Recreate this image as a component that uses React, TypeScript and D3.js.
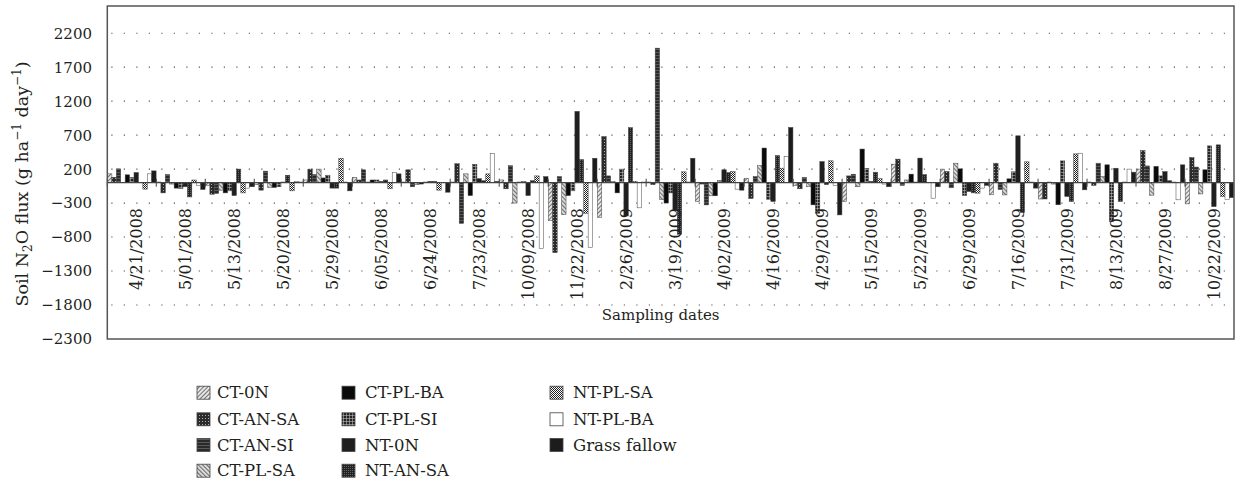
import React from 'react';
import * as d3 from 'd3';

// sampling dates (one group of 11 bars per date)
const dates = ['4/21/2008', '5/01/2008', '5/13/2008', '5/20/2008', '5/29/2008', '6/05/2008', '6/24/2008', '7/23/2008',
  '10/09/2008', '11/22/2008', '2/26/2009', '3/19/2009', '4/02/2009', '4/16/2009', '4/29/2009', '5/15/2009',
  '5/22/2009', '6/29/2009', '7/16/2009', '7/31/2009', '8/13/2009', '8/27/2009', '10/22/2009'];

const seriesNames = ['CT-0N', 'CT-AN-SA', 'CT-AN-SI', 'CT-PL-SA', 'CT-PL-BA', 'CT-PL-SI',
  'NT-0N', 'NT-AN-SA', 'NT-PL-SA', 'NT-PL-BA', 'Grass fallow'];

// soil N2O flux, g ha-1 day-1
const ct0N = [130, 10, -40, -30, 40, 80, 10, 10, 40, -560, -510, 10, -277, 66, -40, -277, 273, 200, -178, -240, 10, 200, -312];
const ctAnSa = [80, -150, -170, -110, 200, 40, 190, 280, -90, -1030, 680, -30, -20, -233, -90, 100, 347, 164, 287, -240, -40, 473, 371];
const ctAnSi = [204, 120, -160, 170, 120, 190, -60, -600, 250, 90, 100, 1980, -327, 90, 77, 125, -40, -75, -100, 10, 287, 247, 230];
const ctPlSa = [5, -20, -110, -70, 200, 10, -30, 130, -300, -470, 20, -250, -193, 250, -60, -60, 40, 287, -180, -20, 90, -184, -165];
const ctPlBa = [116, -80, -150, -70, 70, 40, -20, -190, 10, -190, -150, -300, -193, 510, -326, 495, 126, 204, 57, -325, 263, 240, 190];
const ctPlSi = [77, -85, -120, -60, 110, 40, 10, 270, 20, -120, 200, -150, 30, -245, -450, 210, 10, -188, 160, 321, -573, 100, 542];
const nt0N = [150, -60, -190, 10, -80, 20, 20, 60, -190, 1050, -490, -400, 190, -277, 312, 20, 362, -130, 690, -203, 213, 164, -352];
const ntAnSa = [5, -210, 200, 110, -80, 40, 20, 30, 30, 340, 810, -760, 150, 400, -30, 155, 120, -150, -440, -277, -277, 30, 557];
const ntPlSa = [-95, 40, -150, -120, 360, -90, -110, 130, 100, -450, 20, 160, 165, 214, 322, 60, 5, -154, 307, 424, 10, 10, -203];
const ntPlBa = [130, -40, -80, 15, 10, 150, 5, 430, -970, -950, -370, 10, -95, 386, -40, -20, -228, -80, 10, 434, 200, -252, -250];
const grassFallow = [174, -100, -60, 10, -120, 130, -140, 20, 90, 360, 10, 360, -110, 813, -474, -60, -60, -40, -80, -105, 155, 263, -220];

const seriesValues = [ct0N, ctAnSa, ctAnSi, ctPlSa, ctPlBa, ctPlSi, nt0N, ntAnSa, ntPlSa, ntPlBa, grassFallow];

const yTicks = [-2300, -1800, -1300, -800, -300, 200, 700, 1200, 1700, 2200];

const W = 1236;
const H = 481;
const FONT = '"DejaVu Serif", "Liberation Serif", serif';
const INK = '#231f20';

const fmt = (v: number) => (v < 0 ? '\u2212' + Math.abs(v) : String(v));

// fill patterns, one per series (same order as seriesNames)
const Patterns = () => (
  <defs>
    <pattern id="p0" width="3" height="3" patternUnits="userSpaceOnUse" patternTransform="rotate(45)">
      <rect width="3" height="3" fill="#e6e6e6" />
      <line x1="0" y1="0" x2="0" y2="3" stroke="#333" strokeWidth="1.3" />
    </pattern>
    <pattern id="p1" width="3" height="3" patternUnits="userSpaceOnUse">
      <rect width="3" height="3" fill="#2b2b2b" />
      <rect x="1" y="1" width="1" height="1" fill="#aaa" />
    </pattern>
    <pattern id="p2" width="3" height="3" patternUnits="userSpaceOnUse">
      <rect width="3" height="3" fill="#2a2a2a" />
      <line x1="0" y1="1.5" x2="3" y2="1.5" stroke="#666" strokeWidth="0.8" />
    </pattern>
    <pattern id="p3" width="3" height="3" patternUnits="userSpaceOnUse" patternTransform="rotate(-45)">
      <rect width="3" height="3" fill="#d8d8d8" />
      <line x1="0" y1="0" x2="0" y2="3" stroke="#333" strokeWidth="1.3" />
    </pattern>
    <pattern id="p5" width="3" height="3" patternUnits="userSpaceOnUse">
      <rect width="3" height="3" fill="#222" />
      <line x1="1.5" y1="0" x2="1.5" y2="3" stroke="#bbb" strokeWidth="0.6" />
      <line x1="0" y1="1.5" x2="3" y2="1.5" stroke="#bbb" strokeWidth="0.6" />
    </pattern>
    <pattern id="p7" width="2" height="2" patternUnits="userSpaceOnUse">
      <rect width="2" height="2" fill="#222" />
      <rect x="0" y="0" width="0.8" height="0.8" fill="#888" />
    </pattern>
    <pattern id="p8" width="2" height="2" patternUnits="userSpaceOnUse">
      <rect width="2" height="2" fill="#fff" />
      <rect x="0" y="0" width="1" height="1" fill="#222" />
      <rect x="1" y="1" width="1" height="1" fill="#222" />
    </pattern>
  </defs>
);

const fills = ['url(#p0)', 'url(#p1)', 'url(#p2)', 'url(#p3)', '#0a0a0a', 'url(#p5)', '#1f1f1f', 'url(#p7)', 'url(#p8)', '#ffffff', '#1c1c1c'];

export default function App() {
  const left = 107.3;
  const right = 1234;
  const top = 6;
  const bottom = 339;

  const x = d3.scaleBand<string>().domain(dates).range([left, right]).paddingInner(0).paddingOuter(0);
  const xs = d3.scaleBand<string>().domain(seriesNames).range([0, x.bandwidth()]).paddingOuter(0.04);
  const y = d3.scaleLinear().domain([-2300, 2600]).range([bottom, top]);
  const y0 = y(0);

  const legendCols = [
    { sx: 197, tx: 217, items: [0, 1, 2, 3] },
    { sx: 342, tx: 365, items: [4, 5, 6, 7] },
    { sx: 550, tx: 573, items: [8, 9, 10] },
  ];
  const legendRows = [392.7, 419.3, 445, 470.7];

  return (
    <svg width={W} height={H} style={{ position: 'absolute', left: 0, top: 0, background: '#fff' }} fontFamily={FONT}>
      <Patterns />

      {/* dotted grid */}
      {yTicks.filter(t => t !== -2300).map(t => (
        <line key={t} x1={left + 4} x2={right} y1={y(t)} y2={y(t)} stroke="#555" strokeWidth={1.1} strokeDasharray="1.2 11.3" />
      ))}

      {/* y tick labels */}
      {yTicks.map(t => (
        <text key={t} x={92} y={y(t)} dy="0.36em" textAnchor="end" fontSize={15} fill={INK}>{fmt(t)}</text>
      ))}

      {/* bars */}
      {seriesValues.map((vals, si) => (
        <g key={si}>
          {vals.map((v, di) => {
            const bx = (x(dates[di]) as number) + (xs(seriesNames[si]) as number);
            const by = v >= 0 ? y(v) : y0;
            return (
              <rect key={di} x={bx} y={by} width={xs.bandwidth()} height={Math.abs(y(v) - y0)}
                fill={fills[si]} stroke="#444" strokeWidth={0.5} />
            );
          })}
        </g>
      ))}

      {/* zero axis with category ticks */}
      <line x1={left} x2={right} y1={y0} y2={y0} stroke="#444" strokeWidth={1.3} />
      {dates.map(d => (
        <line key={d} x1={(x(d) as number)} x2={(x(d) as number)} y1={y0 - 4} y2={y0 + 4} stroke="#444" strokeWidth={1} />
      ))}

      {/* date labels */}
      {dates.map(d => {
        const cx = (x(d) as number) + x.bandwidth() / 2 + 5;
        return (
          <text key={d} transform={`translate(${cx},${208}) rotate(-90)`} dy="0.35em" textAnchor="end" fontSize={16} fill={INK}>{d}</text>
        );
      })}

      <text x={(left + right) / 2 - 10} y={315} dy="0.35em" textAnchor="middle" fontSize={15} fill={INK}>Sampling dates</text>

      {/* frame */}
      <rect x={left} y={top} width={right - left} height={bottom - top} fill="none" stroke="#555" strokeWidth={1.5} />

      {/* y axis title */}
      <text transform={`translate(22,${184}) rotate(-90)`} dy="0.35em" textAnchor="middle" fontSize={17.5} fill={INK}>
        Soil N<tspan dy="4" fontSize={12}>2</tspan><tspan dy="-4">O flux (g ha</tspan><tspan dy="-7" fontSize={12}>{'\u22121'}</tspan><tspan dy="7"> day</tspan><tspan dy="-7" fontSize={12}>{'\u22121'}</tspan><tspan dy="7">)</tspan>
      </text>

      {/* legend */}
      {legendCols.map((c, ci) => c.items.map((si, ri) => (
        <g key={`${ci}-${ri}`}>
          <rect x={c.sx} y={legendRows[ri] - 6.5} width={13} height={13} fill={fills[si]} stroke="#444" strokeWidth={0.8} />
          <text x={c.tx} y={legendRows[ri]} dy="0.35em" fontSize={16.5} fill={INK}>{seriesNames[si]}</text>
        </g>
      )))}
    </svg>
  );
}
